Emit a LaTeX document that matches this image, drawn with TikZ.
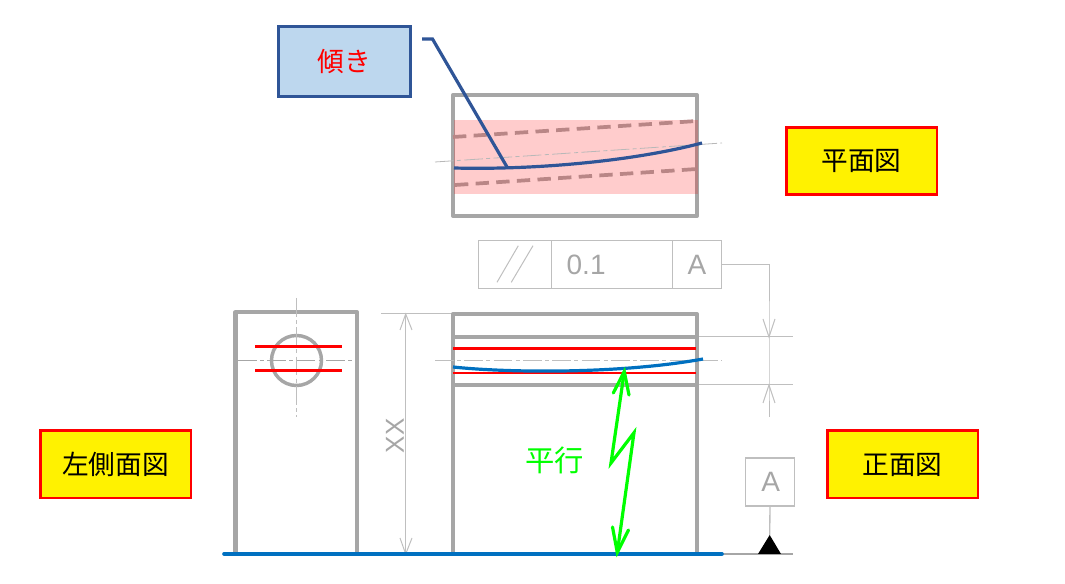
\documentclass[tikz,border=0pt]{standalone}
\usepackage{fontspec}
\setmainfont{Liberation Sans}
\newfontfamily\jpfont{Noto Sans CJK JP}
\definecolor{gline}{HTML}{A6A6A6}
\definecolor{dimline}{HTML}{BFBFBF}
\definecolor{callblue}{HTML}{2F5597}
\definecolor{callfill}{HTML}{BDD7EE}
\definecolor{curveblue}{HTML}{0070C0}
\definecolor{greenmark}{HTML}{00FF00}
\definecolor{dashbrown}{HTML}{B98686}
\tikzset{
  outline/.style={draw=gline,line width=3.1pt,line join=round},
  dimthin/.style={draw=dimline,line width=0.75pt},
  centerln/.style={draw=gline!80,line width=0.6pt,dash pattern=on 14pt off 2.5pt on 3pt off 2.5pt},
  redline/.style={draw=red,line width=2.1pt},
  bluecurve/.style={draw=curveblue,line width=2.4pt},
  brownd/.style={draw=dashbrown,line width=2.8pt,dash pattern=on 10pt off 5.5pt},
  viewlabel/.style={draw=red,fill=yellow,line width=2pt,minimum width=113pt,minimum height=50.5pt,inner sep=0pt,font=\jpfont\fontsize{20pt}{24pt}\selectfont,text=black},
  framecell/.style={draw=dimline,line width=0.75pt,inner sep=0pt,minimum height=36pt,text=gline,font=\fontsize{21pt}{24pt}\selectfont},
  greenbolt/.style={draw=greenmark,line width=2.4pt,line join=miter,line cap=round},
}
\begin{document}
\begin{tikzpicture}[x=0.75pt,y=-0.75pt]
\useasboundingbox (0,0) rectangle (1065,584);

% plan view
\draw[outline] (453,95) rectangle (697,216);
\fill[red,opacity=0.2] (454,120) rectangle (698,194);
\draw[brownd] (453,137) -- (697,121);
\draw[brownd] (455,185) -- (697,169);
\draw[centerln] (435,162) -- (722,143);
\draw[draw=callblue,line width=2.4pt] (454,168) .. controls (530,170) and (630,162) .. (702,143);

% callout
\node[draw=callblue,fill=callfill,line width=2.4pt,minimum width=99pt,minimum height=52pt,inner sep=0pt,text=red,font=\jpfont\fontsize{20pt}{24pt}\selectfont] (callout) at (344.5,61.5) {傾き};
\coordinate (leadstart) at (422,39);
\coordinate (leadbend) at (432.5,39);
\coordinate (leadend) at (507,167);
\draw[draw=callblue,line width=2.4pt] (leadstart) -- (leadbend) -- (leadend);

% view labels
\node[viewlabel] (planlabel) at (861.5,161) {平面図};
\node[viewlabel] (leftlabel) at (115.5,464.5) {左側面図};
\node[viewlabel] (frontlabel) at (902.5,464.5) {正面図};

% feature control frame
\node[framecell,minimum width=54.7pt] (tolsym) at (514.8,265) {};
\node[framecell,minimum width=90.9pt,text width=86pt,align=left] (tolval) at (612,265) {\hspace{9pt}0.1};
\node[framecell,minimum width=36.2pt] (tolref) at (697,265) {A};
\draw[dimthin] (497,282.3) -- (518.3,245.7);
\draw[dimthin] (511.3,282.3) -- (533,245.7);

% dimension on right
\coordinate (elbow) at (769,265);
\coordinate (upper) at (769,337);
\coordinate (lower) at (769,385);
\coordinate (dimend) at (769,417);
\draw[dimthin] (tolref.east) -- (elbow) -- (upper) -- (lower) -- (dimend);
\draw[dimthin] (697,337) -- (793,337);
\draw[dimthin] (697,385) -- (793,385);
\draw[dimthin] (763,319) -- (upper) -- (775,319);
\draw[dimthin] (763,403) -- (lower) -- (775,403);

% datum
\draw[draw=gline,line width=0.8pt] (722,554) -- (793,554);
\node[draw=dimline,line width=1pt,minimum width=36.4pt,minimum height=36.2pt,inner sep=0pt,text=gline] (datumbox) at (770,482) {\fontsize{21pt}{24pt}\selectfont\hspace{1.2pt}A};
\coordinate (datumtip) at (769.7,535);
\draw[dimline,line width=1pt] (datumbox.south) -- (datumtip);
\fill[black] (datumtip) -- (781,554) -- (758,554) -- cycle;

% left view
\draw[outline] (235.5,312) rectangle (357,554);
\draw[draw=gline,line width=2.6pt] (296.5,360.5) circle[radius=25];
\draw[draw=dimline,line width=0.8pt,dash pattern=on 14pt off 2.5pt on 3pt off 2.5pt] (296.5,298) -- (296.5,417);
\draw[draw=gline,line width=0.6pt,dash pattern=on 14pt off 2.5pt on 3pt off 2.5pt] (238,360.5) -- (355,360.5);
\draw[redline] (255,346.7) -- (342,346.7);
\draw[redline] (255,370.7) -- (342,370.7);

% XX dimension
\draw[dimthin] (381,314) -- (453,314);
\draw[dimthin] (381,554) -- (453,554);
\coordinate (xxtop) at (405.7,314);
\coordinate (xxbot) at (405.7,554);
\draw[dimthin] (xxtop) -- (xxbot);
\draw[dimthin] (400,330) -- (xxtop) -- (412,330);
\draw[dimthin] (400,538) -- (xxbot) -- (412,538);
\node[rotate=90,text=gline,inner sep=0pt,font=\fontsize{19.5pt}{24pt}\selectfont] (xxlabel) at (395,436) {XX};

% front view
\draw[outline] (453,314) rectangle (697,554);
\draw[outline] (453,337) -- (697,337);
\draw[outline] (453,384.8) -- (697,384.8);
\draw[draw=dimline,line width=0.8pt,dash pattern=on 14pt off 2.5pt on 3pt off 2.5pt] (435,360.7) -- (722,360.7);
\draw[redline] (453,348.7) -- (696,348.7);
\draw[redline] (453,373) -- (696,373);
\draw[bluecurve] (453,367) .. controls (510,373) and (620,374) .. (703,359);

% datum surface
\draw[draw=curveblue,line width=2.7pt,line cap=round] (224,554) -- (722,554);

% parallel mark
\draw[greenbolt] (624.3,371.5) -- (611,463) -- (634,432.7) -- (617.3,552.5);
\draw[greenbolt] (613.3,393) -- (624.3,371.5) -- (629,395);
\draw[greenbolt] (612.5,527) -- (617.3,552.5) -- (628.5,530);
\node[text=greenmark,inner sep=0pt,font=\jpfont\fontsize{22pt}{26pt}\selectfont] (heikou) at (554.5,460) {平行};
\end{tikzpicture}
\end{document}
